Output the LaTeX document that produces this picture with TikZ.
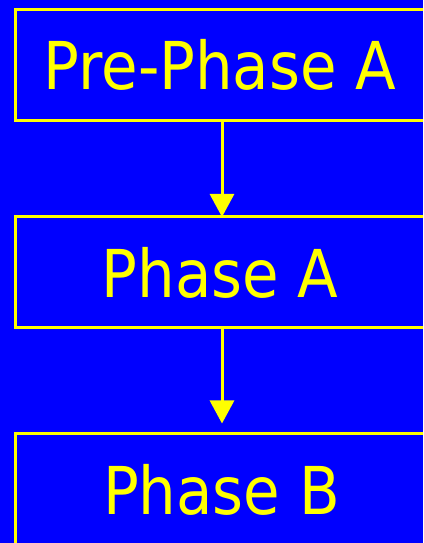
\documentclass[tikz,border=0pt]{standalone}
\usepackage{fontspec}
\usetikzlibrary{arrows.meta}
\newfontfamily\boxfont[FakeStretch=0.9]{DejaVu Sans}
\definecolor{slideblue}{RGB}{0,0,255}
\definecolor{slideyellow}{RGB}{255,255,0}
\tikzset{
  phasebox/.style={draw=slideyellow, line width=3pt, rectangle,
    minimum width=414pt, minimum height=111pt, inner sep=0pt},
  phaselabel/.style={text=slideyellow, anchor=base, inner sep=0pt,
    font=\boxfont\fontsize{66}{70}\selectfont},
  flow/.style={draw=slideyellow, line width=3pt,
    -{Triangle[width=24pt,length=23pt]}}
}
\begin{document}
\begin{tikzpicture}[x=1pt,y=1pt]
  \useasboundingbox (0,0) rectangle (423,543);
  \clip (0,0) rectangle (423,543);
  \fill[slideblue] (0,0) rectangle (423,543);

  % the three stages, top to bottom
  \node[phasebox] (pre)    at (222,477.5) {};
  \node[phasebox] (phasea) at (222,270.5) {};
  \node[phasebox] (phaseb) at (222,54) {};

  \node[phaselabel] (prelabel) at (220,453) {Pre-Phase A};
  \node[phaselabel] (alabel)   at (220,245) {Phase A};
  \node[phaselabel] (blabel)   at (221.5,28) {Phase B};

  % connectors between stages
  \draw[flow, shorten >=-1.5pt] (pre.south) -- (phasea.north);
  \draw[flow, shorten >=8.5pt] (phasea.south) -- (phaseb.north);
\end{tikzpicture}
\end{document}
